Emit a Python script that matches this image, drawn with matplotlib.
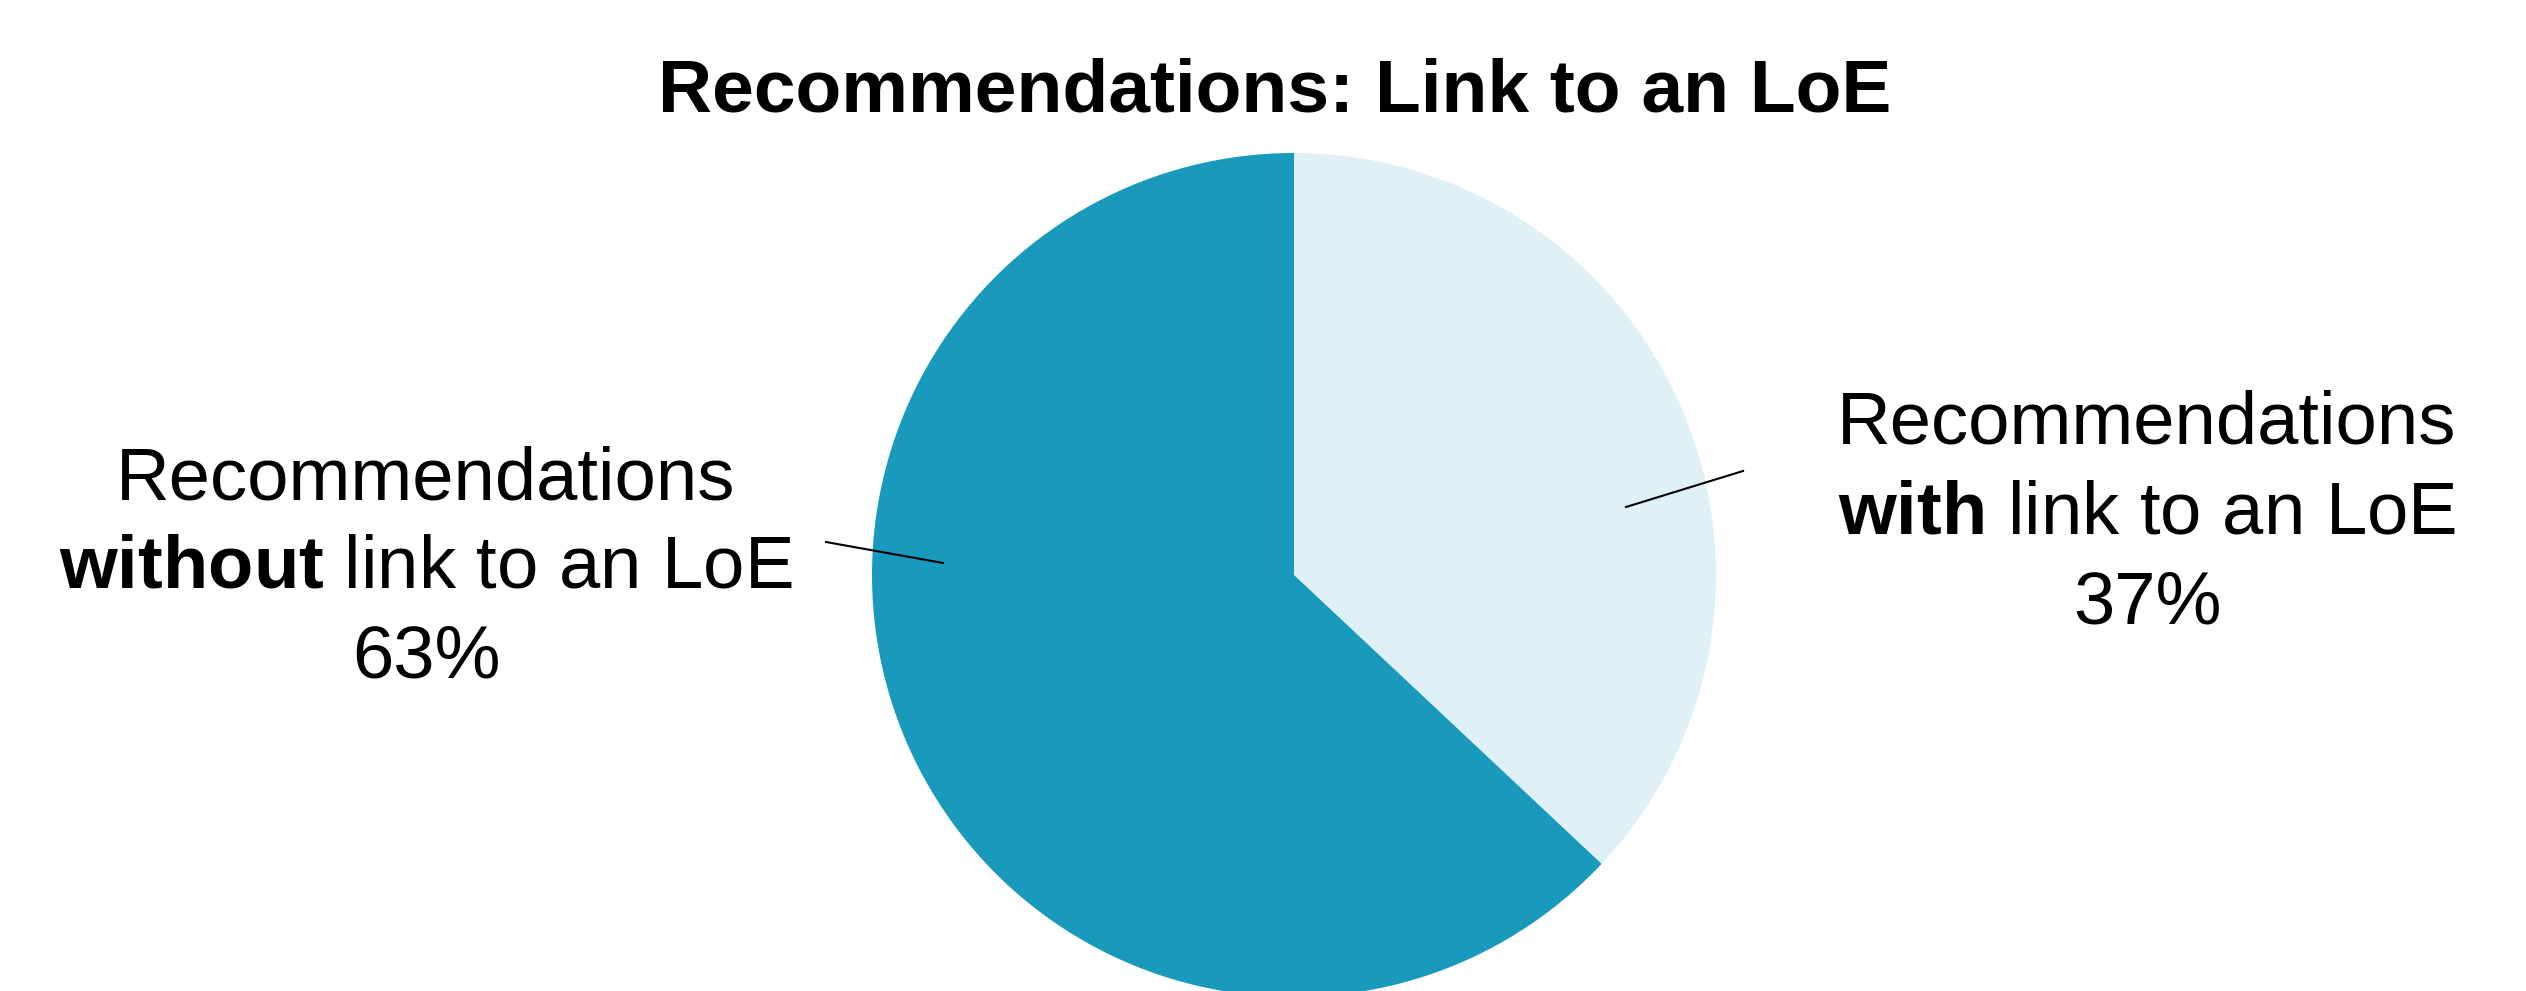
import matplotlib.pyplot as plt

plt.rcParams['font.family'] = ['Liberation Sans', 'DejaVu Sans']
plt.rcParams['mathtext.fontset'] = 'custom'
plt.rcParams['mathtext.rm'] = 'Liberation Sans'
plt.rcParams['mathtext.bf'] = 'Liberation Sans:bold'

title = "Recommendations: Link to an LoE"
categories = ["with", "without"]
shares = [37, 63]
colors = ["#DFF0F7", "#1999BB"]

W, H = 2526, 991
cx, cy, radius = 1294, 575, 422

fig = plt.figure(figsize=(W / 100, H / 100), dpi=100)
ax = fig.add_axes([0, 0, 1, 1])

ax.pie(shares, colors=colors, startangle=90, counterclock=False,
       radius=radius, center=(0, 0), wedgeprops=dict(linewidth=0))

ax.set_xlim(-cx, W - cx)
ax.set_ylim(-(H - cy), cy)
ax.set_aspect("equal")
ax.axis("off")


def px(x, y):
    # pixel position in the image -> data coords
    return x - cx, cy - y


fig.text(1275 / W, 1 - 111 / H, title, ha="center", va="baseline",
         fontsize=54, fontweight="bold")

# label layout: (center x, baselines) and leader line ends
label_pos = {"with": (2147, [444, 533, 623]), "without": (426, [499, 588, 678])}
leaders = {"with": ((1626, 507), (1743, 471)), "without": ((943, 563), (826, 542))}

for cat, share in zip(categories, shares):
    x, ys = label_pos[cat]
    lines = ["Recommendations", r"$\mathbf{" + cat + "}$ link to an LoE", f"{share}%"]
    for line, y in zip(lines, ys):
        fig.text(x / W, 1 - y / H, line, ha="center", va="baseline", fontsize=53.5)
    (x0, y0), (x1, y1) = leaders[cat]
    ax.plot(*zip(px(x0, y0), px(x1, y1)), color="black", linewidth=1.5)

fig.savefig("out.png", dpi=100)
